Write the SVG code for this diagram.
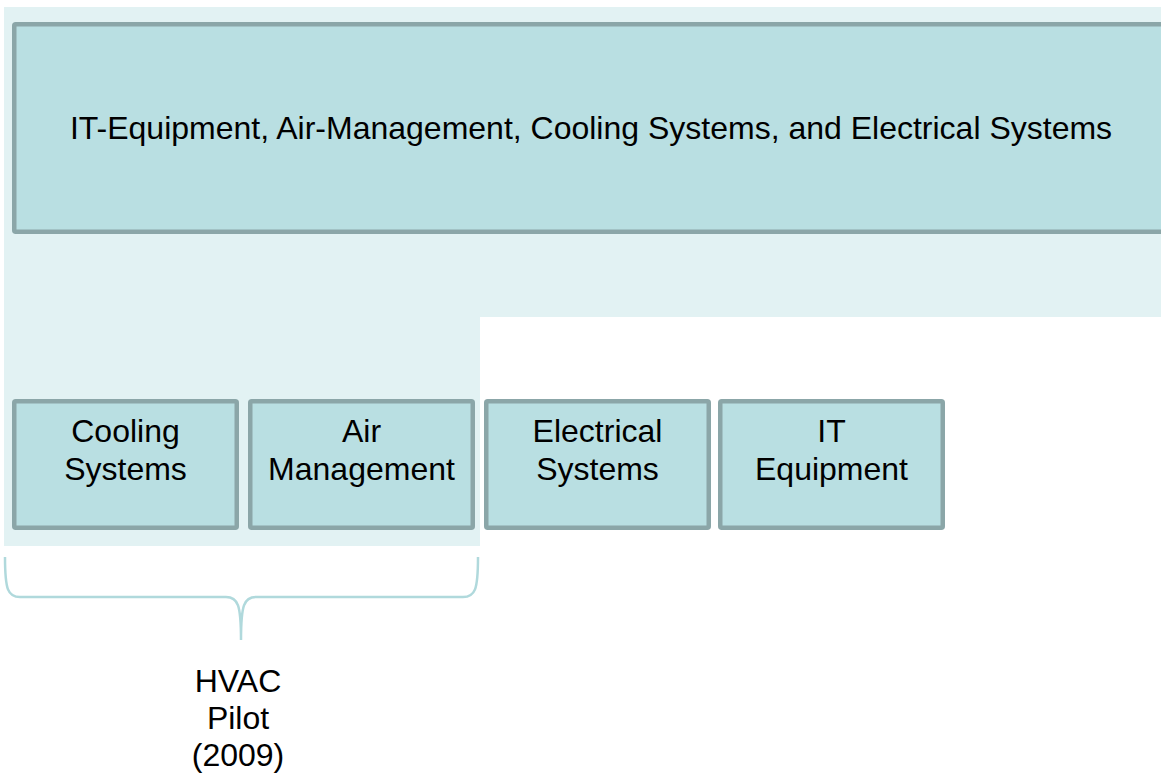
<svg xmlns="http://www.w3.org/2000/svg" width="1161" height="775" viewBox="0 0 1161 775">
  <style>
    .bg { fill: #e2f2f3; }
    .node { fill: #b9dfe2; stroke: #8ba6a8; stroke-width: 4.5; }
    .lbl { font-family: "Liberation Sans", Arial, sans-serif; font-size: 32px; fill: #000; text-anchor: middle; }
    .brace { fill: none; stroke: #b0d9dc; stroke-width: 2.5; }
  </style>
  <rect width="1161" height="775" fill="#ffffff"/>
  <g id="background">
    <path class="bg" d="M4,7 H1161 V317 H480 V546 H4 Z"/>
  </g>
  <g id="top">
    <rect class="node" x="14.25" y="24.25" width="1160" height="207.5" rx="1.5"/>
    <text class="lbl" x="591" y="139">IT-Equipment, Air-Management, Cooling Systems, and Electrical Systems</text>
  </g>
  <g id="cooling">
    <rect class="node" x="14.25" y="401.25" width="222.5" height="126.5" rx="1.5"/>
    <text class="lbl" x="125.5" y="442">Cooling</text>
    <text class="lbl" x="125.5" y="480">Systems</text>
  </g>
  <g id="air">
    <rect class="node" x="250.25" y="401.25" width="222.5" height="126.5" rx="1.5"/>
    <text class="lbl" x="361.5" y="442">Air</text>
    <text class="lbl" x="361.5" y="480">Management</text>
  </g>
  <g id="electrical">
    <rect class="node" x="486.25" y="401.25" width="222.5" height="126.5" rx="1.5"/>
    <text class="lbl" x="597.5" y="442">Electrical</text>
    <text class="lbl" x="597.5" y="480">Systems</text>
  </g>
  <g id="it">
    <rect class="node" x="720.25" y="401.25" width="222.5" height="126.5" rx="1.5"/>
    <text class="lbl" x="831.5" y="442">IT</text>
    <text class="lbl" x="831.5" y="480">Equipment</text>
  </g>
  <g id="connectors">
    <path class="brace" d="M5,557 C5,590 8,597 20,597 L226,597 C238,597 241,605 241,640 M241,640 C241,605 244,597 256,597 L463,597 C475,597 478,590 478,557"/>
  </g>
  <g id="hvac">
    <text class="lbl" x="238" y="692">HVAC</text>
    <text class="lbl" x="238" y="729">Pilot</text>
    <text class="lbl" x="238" y="766">(2009)</text>
  </g>
</svg>
